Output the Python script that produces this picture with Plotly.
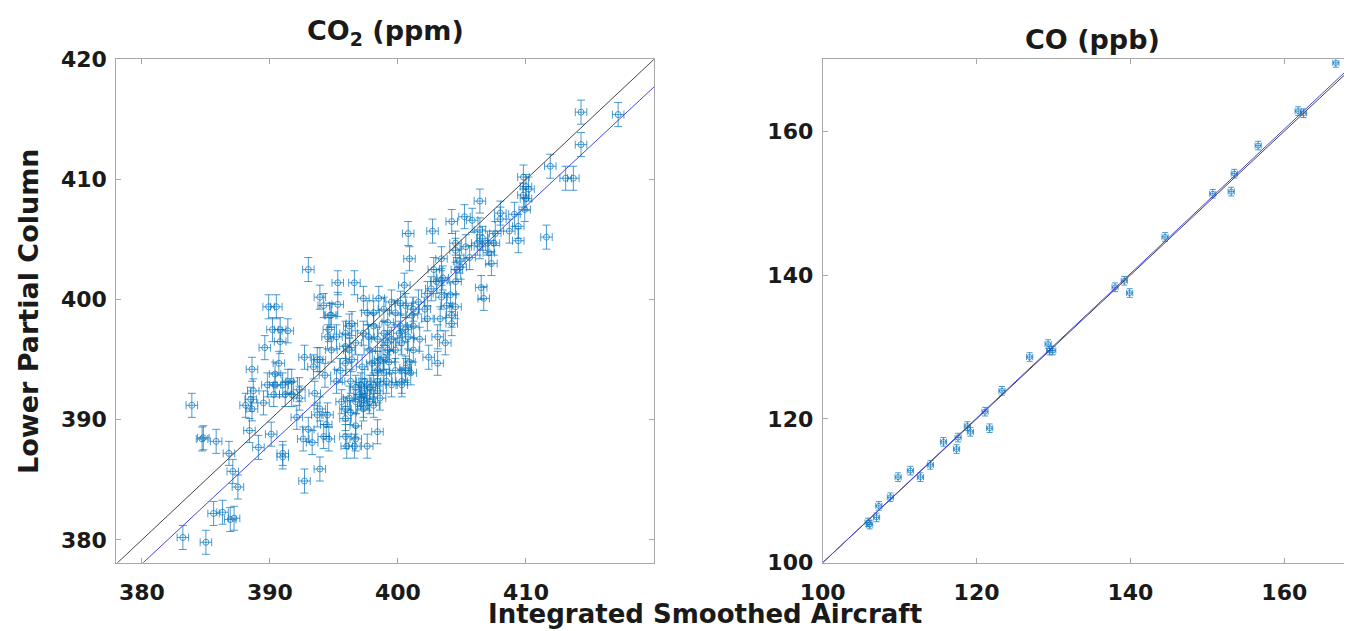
import plotly.graph_objects as go

# ---------------- data ----------------
# CO2 panel: aircraft (x) vs lower partial column (y), ppm
co2_air = [414.3, 417.2, 414.3, 411.9, 413.1, 413.7, 409.8, 410.0, 410.2, 409.8, 410.0, 409.9, 409.4, 411.6,
           409.4, 408.7, 409.1, 408.0, 406.4, 408.0, 407.6, 407.5, 407.1, 407.3, 406.4, 406.4, 405.8, 405.2,
           404.2, 402.7, 400.8, 400.9, 405.3, 404.5, 404.8, 405.6, 404.6, 403.4, 402.8, 403.5, 402.3, 403.4,
           403.8, 404.5, 404.2, 404.2, 406.5, 406.7, 403.3, 402.3, 403.1, 403.7, 403.1, 402.4, 401.7, 401.2,
           401.2, 401.1, 400.6, 400.5, 400.2, 399.8, 400.1, 400.3, 399.5, 398.9, 398.5, 398.1, 399.2, 398.9,
           399.2, 398.9, 398.4, 398.9, 399.5, 400.9, 401.0, 400.6, 400.3, 398.4, 397.8, 397.6, 397.3, 397.0,
           397.4, 397.2, 396.7, 396.4, 396.2, 396.7, 397.3, 397.8, 398.4, 397.6, 397.3, 396.6, 396.2, 396.4,
           395.9, 395.3, 395.3, 394.8, 394.6, 395.2, 395.9, 395.9, 395.2, 396.2, 395.9, 395.6, 396.0, 396.6,
           396.7, 397.6, 398.4, 395.9, 394.6, 394.2, 394.4, 394.5, 393.7, 393.9, 393.5, 393.3, 393.0, 392.6,
           393.9, 392.7, 392.1, 392.3, 391.2, 391.0, 391.0, 391.0, 390.1, 389.1, 388.4, 388.6, 388.5, 389.5,
           390.3, 390.4, 390.4, 390.7, 391.4, 391.7, 392.7, 393.7, 393.9, 394.3, 388.6, 389.6, 390.8, 390.2,
           390.8, 391.4, 389.9, 390.5, 393.0, 393.9, 394.2, 394.7, 383.9, 384.7, 384.8, 385.8, 386.8, 387.1,
           387.5, 385.6, 386.3, 386.9, 387.2, 383.2, 385.0,
           397.1, 397.4, 397.3, 397.1, 397.8, 398.1, 398.4, 398.6, 399.2, 399.5, 399.8, 400.2, 400.6, 400.8,
           401.2, 401.6, 402.1, 402.6, 403.0, 403.4, 404.1, 404.5, 404.9, 406.2, 406.6, 407.0, 404.5, 398.1,
           397.7, 398.0, 399.3, 399.8, 400.3, 400.6, 399.1, 398.4, 396.7, 396.3, 395.5, 394.8, 394.5, 393.4,
           395.9, 396.3, 396.7, 398.1, 398.6, 392.3, 391.7, 389.8, 388.7, 388.1]
co2_col = [415.6, 415.4, 412.9, 411.1, 410.1, 410.1, 410.2, 409.4, 409.2, 408.7, 408.4, 407.5, 406.1, 405.2,
           404.9, 405.7, 407.1, 407.2, 408.2, 406.7, 405.5, 404.7, 403.9, 403.0, 404.4, 405.8, 406.6, 406.9,
           406.5, 405.7, 405.5, 403.4, 404.4, 404.1, 403.2, 403.5, 402.5, 403.4, 402.5, 401.8, 400.5, 400.2,
           399.5, 399.4, 398.7, 398.0, 401.0, 400.1, 398.4, 398.4, 396.9, 396.4, 394.7, 395.2, 396.7, 395.8,
           397.8, 398.7, 399.5, 401.2, 399.7, 398.9, 397.2, 396.4, 399.8, 399.2, 400.1, 398.9, 398.1, 397.2,
           396.4, 395.2, 394.7, 393.9, 392.9, 394.8, 393.9, 394.1, 393.2, 393.2, 392.7, 391.8, 390.9, 392.1,
           393.2, 394.4, 392.7, 395.0, 395.8, 396.4, 397.2, 395.8, 396.7, 398.9, 400.1, 401.4, 397.8, 398.0,
           397.2, 399.6, 401.4, 398.7, 397.5, 396.9, 396.1, 394.7, 393.2, 391.8, 390.9, 391.5, 387.8, 387.8,
           388.4, 387.8, 389.0, 388.6, 388.4, 388.6, 389.6, 390.4, 390.4, 390.9, 392.2, 388.1, 389.2, 388.4,
           385.9, 384.9, 390.2, 391.8, 392.1, 392.9, 387.2, 386.9, 388.8, 387.7, 389.1, 390.9, 391.7, 391.4,
           392.1, 392.9, 393.8, 394.7, 393.2, 393.2, 395.2, 395.0, 395.0, 393.7, 394.2, 396.0, 396.5, 397.5,
           397.5, 397.4, 399.4, 399.4, 402.5, 400.2, 399.5, 398.7, 391.2, 388.4, 388.5, 388.2, 387.2, 385.7,
           384.4, 382.2, 382.3, 381.7, 381.8, 380.2, 379.8,
           392.9, 392.4, 391.2, 391.8, 391.5, 392.9, 394.1, 395.0, 395.8, 396.7, 395.8, 397.8, 397.5, 396.9,
           399.2, 399.8, 399.2, 400.9, 401.5, 401.6, 400.4, 401.5, 402.7, 404.7, 405.1, 404.7, 404.7, 397.8,
           396.9, 394.7, 394.8, 394.1, 392.9, 394.3, 393.2, 392.4, 391.5, 393.2, 394.1, 395.8, 396.9, 394.4,
           390.1, 390.6, 389.5, 391.2, 391.8, 392.5, 392.1, 392.9, 392.4, 391.2]
co2_air_err = 0.45   # ppm
co2_col_err = 1.0    # ppm
co2_fit = [0.9925, 0.85]   # slope, intercept

# CO panel, ppb
co_air = [105.9, 106.1, 107.0, 107.3, 108.8, 109.8, 111.4, 112.7, 114.0, 115.7, 117.4, 117.6, 118.8, 119.2,
          121.1, 121.7, 123.3, 126.9, 129.3, 129.5, 129.9, 138.0, 139.2, 139.9, 144.5, 150.7, 153.1, 153.5,
          156.6, 161.8, 162.5, 166.7, 168.4]
co_col = [105.6, 105.3, 106.3, 107.9, 109.1, 111.9, 112.8, 111.9, 113.6, 116.8, 115.8, 117.4, 119.0, 118.2,
          121.0, 118.7, 123.9, 128.6, 130.4, 129.5, 129.5, 138.3, 139.2, 137.5, 145.3, 151.3, 151.6, 154.1,
          158.0, 162.8, 162.5, 169.5, 168.8]
co_air_err = 0.4
co_col_err = 0.6
co_fit = [1.005, -0.5]

co2_range = [378, 420]
co2_yrange = [378.1, 420]
co_xrange = [100, 168.8]
co_yrange = [100, 170]
co2_ticks = [380, 390, 400, 410]
co2_yticks = [380, 390, 400, 410, 420]
co_ticks = [100, 120, 140, 160]

# ---------------- figure ----------------
# page body has an 8px margin, so the figure is 8px smaller and all target pixel
# positions (measured in the 1352x631 window) are shifted by that offset
OFF = 8
W, H = 1352 - OFF, 631 - OFF
BLUE = "rgba(0,114,189,0.7)"
FIT = "rgb(70,70,225)"
ONE = "rgb(70,70,70)"
AX = "#a8a8a8"
FONT = "DejaVu Sans"


def px(x):
    return (x - OFF) / W


def py(y):
    return 1 - (y - OFF) / H


fig = go.Figure()

fig.add_trace(go.Scatter(
    x=co2_air, y=co2_col, mode="markers", xaxis="x", yaxis="y",
    marker=dict(symbol="circle-open", size=6, color=BLUE, line=dict(width=1)),
    error_x=dict(type="constant", value=co2_air_err, color=BLUE, thickness=1, width=4),
    error_y=dict(type="constant", value=co2_col_err, color=BLUE, thickness=1, width=4),
    showlegend=False, hoverinfo="x+y"))

fig.add_trace(go.Scatter(x=co2_range, y=co2_range, mode="lines", xaxis="x", yaxis="y",
                         line=dict(color=ONE, width=1), showlegend=False))
fig.add_trace(go.Scatter(x=co2_range, y=[co2_fit[0] * v + co2_fit[1] for v in co2_range], mode="lines",
                         xaxis="x", yaxis="y", line=dict(color=FIT, width=1), showlegend=False))

fig.add_trace(go.Scatter(
    x=co_air, y=co_col, mode="markers", xaxis="x2", yaxis="y2",
    marker=dict(symbol="circle-open", size=5, color=BLUE, line=dict(width=1)),
    error_x=dict(type="constant", value=co_air_err, color=BLUE, thickness=1, width=3),
    error_y=dict(type="constant", value=co_col_err, color=BLUE, thickness=1, width=3),
    showlegend=False, hoverinfo="x+y"))

co_line_x = [100, 172]
fig.add_trace(go.Scatter(x=co_line_x, y=co_line_x, mode="lines", xaxis="x2", yaxis="y2",
                         line=dict(color=ONE, width=1), showlegend=False))
fig.add_trace(go.Scatter(x=co_line_x, y=[co_fit[0] * v + co_fit[1] for v in co_line_x], mode="lines",
                         xaxis="x2", yaxis="y2", line=dict(color=FIT, width=1), showlegend=False))

tickfont = dict(family=FONT, size=22, color="#1a1a1a", weight="bold")
common = dict(showgrid=False, zeroline=False, showline=True, linecolor=AX, linewidth=1,
              ticks="inside", ticklen=5, tickcolor=AX, tickfont=tickfont, automargin=False)

top, bottom = 59.3, 562.7
fig.update_layout(
    width=W, height=H, margin=dict(l=0, r=0, t=0, b=0, pad=0, autoexpand=False),
    paper_bgcolor="white", plot_bgcolor="white",
    xaxis=dict(domain=[px(116.3), px(654)], range=co2_range, tickvals=co2_ticks, anchor="y",
               mirror="ticks", ticklabelstandoff=10, **common),
    yaxis=dict(domain=[py(bottom), py(top)], range=co2_yrange, tickvals=co2_yticks, anchor="x",
               mirror="ticks", ticklabelstandoff=4, **common),
    xaxis2=dict(domain=[px(822.7), 1], range=co_xrange, tickvals=co_ticks, anchor="y2",
                mirror="ticks", ticklabelstandoff=10, **common),
    yaxis2=dict(domain=[py(bottom), py(top)], range=co_yrange, tickvals=co_ticks, anchor="x2",
                mirror=False, ticklabelstandoff=4, **common),
)

tfont = dict(family=FONT, size=27, color="#1a1a1a", weight="bold")
fig.add_annotation(text="CO<sub>2</sub> (ppm)", x=px(385), y=py(32), xref="paper", yref="paper",
                   showarrow=False, font=tfont, xanchor="center", yanchor="middle")
fig.add_annotation(text="CO (ppb)", x=px(1092), y=py(40), xref="paper", yref="paper",
                   showarrow=False, font=tfont, xanchor="center", yanchor="middle")
afont = dict(family=FONT, size=27, color="#1a1a1a", weight="bold")
fig.add_annotation(text="Lower Partial Column", x=px(28), y=py(311), xref="paper", yref="paper",
                   showarrow=False, font=afont, textangle=-90, xanchor="center", yanchor="middle")
fig.add_annotation(text="Integrated Smoothed Aircraft", x=px(705), y=py(614),
                   xref="paper", yref="paper", showarrow=False,
                   font=dict(family=FONT, size=26, color="#1a1a1a", weight="bold"),
                   xanchor="center", yanchor="middle")

fig.write_html("out.html")
